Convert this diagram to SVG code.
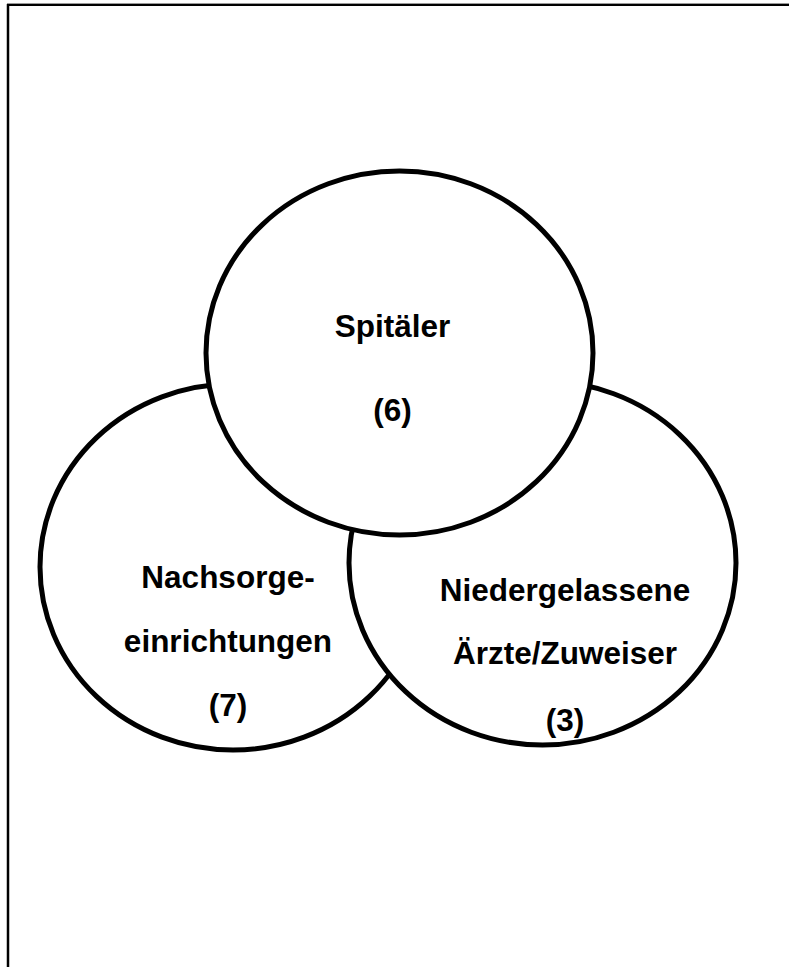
<svg xmlns="http://www.w3.org/2000/svg" width="789" height="967" viewBox="0 0 789 967">
<style>
.c{fill:#fff;stroke:#000;stroke-width:5}
.t{font-family:"Liberation Sans",Arial,sans-serif;font-weight:bold;font-size:31.5px;fill:#000;text-anchor:middle}
</style>
<rect width="789" height="967" fill="#fff"/>
<g id="frame">
<line x1="7" y1="3.5" x2="789" y2="3.5" stroke="#999" stroke-width="1"/>
<line x1="7" y1="5" x2="789" y2="5" stroke="#000" stroke-width="2"/>
<line x1="8" y1="4" x2="8" y2="967" stroke="#000" stroke-width="2.5"/>
</g>
<g id="nachsorge">
<ellipse class="c" cx="233" cy="567" rx="193" ry="183"/>
<text class="t" x="228" y="588">Nachsorge-</text>
<text class="t" x="228" y="652">einrichtungen</text>
<text class="t" x="228" y="716">(7)</text>
</g>
<g id="aerzte">
<ellipse class="c" cx="542.5" cy="563" rx="193.5" ry="182"/>
<text class="t" x="565" y="601">Niedergelassene</text>
<text class="t" x="565" y="664">Ärzte/Zuweiser</text>
<text class="t" x="565" y="731">(3)</text>
</g>
<g id="spitaeler">
<ellipse class="c" cx="399.5" cy="353" rx="193.5" ry="182"/>
<text class="t" x="392.5" y="337">Spitäler</text>
<text class="t" x="392.5" y="421">(6)</text>
</g>
<g id="connectors"></g>
</svg>
